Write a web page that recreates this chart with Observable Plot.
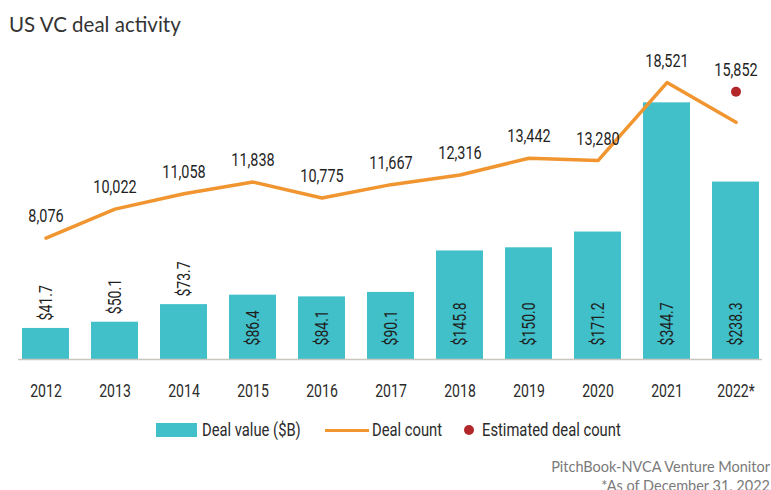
<!DOCTYPE html>
<html><head><meta charset="utf-8">
<script src="https://cdn.jsdelivr.net/npm/d3@7"></script>
<script src="https://cdn.jsdelivr.net/npm/@observablehq/plot@0.6"></script>
<style>
body{margin:0;background:#fff;width:771px;height:490px;overflow:hidden;position:relative;font-family:Roboto,sans-serif;color:#2b2b2b;}
#title{position:absolute;left:9px;top:12px;font-family:Lato,"Open Sans",sans-serif;font-size:20.5px;line-height:24px;color:#333;white-space:nowrap;}
#chart{position:absolute;left:0;top:40px;}
.lg{position:absolute;font-size:18px;line-height:20px;top:420px;white-space:nowrap;color:#2b2b2b;transform:scaleX(0.82);transform-origin:0 50%;}
.sw{position:absolute;}
#caption{position:absolute;right:1px;top:457px;text-align:right;font-family:Lato,"Open Sans",sans-serif;font-size:14.5px;line-height:19px;color:#7a7a7a;white-space:nowrap;}
</style>
</head><body>
<div id="title">US VC deal activity</div>
<div id="chart"></div>
<div class="sw" style="left:156px;top:423px;width:41px;height:14px;background:#41c0c9"></div>
<div class="lg" style="left:202px">Deal value ($B)</div>
<div class="sw" style="left:325px;top:429px;width:44px;height:3px;background:#f0952f"></div>
<div class="lg" style="left:372px">Deal count</div>
<div class="sw" style="left:464px;top:425px;width:10px;height:10px;border-radius:50%;background:#b3272a"></div>
<div class="lg" style="left:482px">Estimated deal count</div>
<div id="caption">PitchBook-NVCA Venture Monitor<br>*As of December 31, 2022</div>
<script>
const years = ["2012","2013","2014","2015","2016","2017","2018","2019","2020","2021","2022*"];
const dealValue = [41.7,50.1,73.7,86.4,84.1,90.1,145.8,150.0,171.2,344.7,238.3];
const dealCount = [8076,10022,11058,11838,10775,11667,12316,13442,13280,18521,15852];
const estYears = ["2022*"];
const estCount = [17900];

// deal counts share the chart's vertical scale through a fixed secondary mapping
const countToY = c => c / 50 + 1.5;

const data = years.map((year, i) => {
  const ei = estYears.indexOf(year);
  return {year, value: dealValue[i], count: dealCount[i], labelAt: ei >= 0 ? Math.max(estCount[ei], dealCount[i]) : dealCount[i]};
});
const est = estYears.map((year, i) => ({year, count: estCount[i]}));

const chart = Plot.plot({
  width: 771,
  height: 370,
  marginLeft: 18,
  marginRight: 9,
  marginTop: 10,
  marginBottom: 51,
  style: {fontFamily: "Roboto, sans-serif", color: "#2b2b2b", background: "transparent"},
  x: {domain: years, paddingInner: 0.325, paddingOuter: 0, axis: null},
  y: {domain: [0, 415], axis: null},
  marks: [
    Plot.barY(data, {x: "year", y: "value", fill: "#41c0c9"}),
    Plot.ruleY([0], {stroke: "#c9c5bf", strokeWidth: 1.5}),
    Plot.axisX({tickSize: 0, tickPadding: 25, fontSize: 18, fill: "#2b2b2b", label: null}),
    Plot.text(data.filter(d => d.value >= 80), {x: "year", y: 0, text: d => "$" + d.value.toFixed(1), rotate: -90, textAnchor: "start", dy: -14, fontSize: 18, fill: "#1f1f1f"}),
    Plot.text(data.filter(d => d.value < 80), {x: "year", y: "value", text: d => "$" + d.value.toFixed(1), rotate: -90, textAnchor: "start", dy: -8, fontSize: 18, fill: "#1f1f1f"}),
    Plot.lineY(data, {x: "year", y: d => countToY(d.count), stroke: "#f0952f", strokeWidth: 3.5}),
    Plot.dot(est, {x: "year", y: d => countToY(d.count), r: 5, fill: "#b3272a"}),
    Plot.text(data, {x: "year", y: d => countToY(d.labelAt), text: d => d3.format(",")(d.count), dy: -22, fontSize: 18.5, fill: "#1f1f1f"})
  ]
});
// condense the chart's text horizontally along its reading direction
d3.select(chart).selectAll("text").each(function() {
  const t = this.getAttribute("transform") || "";
  this.setAttribute("transform", (t + " scale(0.78,1)").trim());
});
document.getElementById("chart").append(chart);
</script>
</body></html>
